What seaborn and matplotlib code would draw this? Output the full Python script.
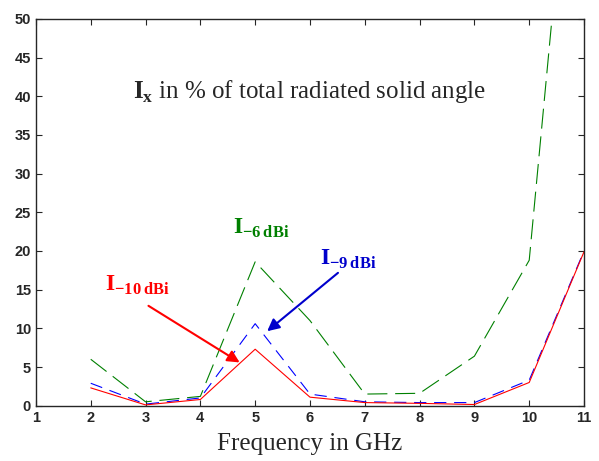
import pandas as pd
import seaborn as sns
import matplotlib.pyplot as plt

freq = [2, 3, 4, 5, 6, 7, 8, 9, 10, 11]
i_6dbi = [6.0, 0.5, 1.2, 18.6, 11.0, 1.5, 1.6, 6.4, 18.8, 94.0]
i_9dbi = [2.9, 0.2, 1.0, 10.6, 1.5, 0.5, 0.4, 0.4, 3.3, 20.0]
i_10dbi = [2.3, 0.1, 0.8, 7.3, 1.1, 0.4, 0.3, 0.15, 3.0, 19.9]

df = pd.DataFrame({"freq": freq, "i6": i_6dbi, "i9": i_9dbi, "i10": i_10dbi})

sns.set_style("ticks")
plt.rcParams["mathtext.fontset"] = "custom"
plt.rcParams["mathtext.rm"] = "Liberation Serif"
plt.rcParams["mathtext.bf"] = "Liberation Serif:bold"

fig = plt.figure(figsize=(5.99, 4.61), dpi=100)
ax = fig.add_axes([0.060, 0.120, 0.915, 0.839])

sns.lineplot(data=df, x="freq", y="i6", ax=ax, color="#008000", lw=0.8)
sns.lineplot(data=df, x="freq", y="i9", ax=ax, color="#0000ff", lw=0.8)
sns.lineplot(data=df, x="freq", y="i10", ax=ax, color="#ff0000", lw=0.8)
ax.lines[0].set_dashes([18, 7])
ax.lines[1].set_dashes([11, 7])

ax.set_xlim(1, 11)
ax.set_ylim(0, 50)
ax.set_xticks(range(1, 12))
ax.set_yticks(range(0, 51, 5))
ax.tick_params(direction="in", top=True, right=True, length=4, width=0.8, labelsize=10.5)
for lab in ax.get_xticklabels() + ax.get_yticklabels():
    lab.set_fontweight("bold")
    lab.set_family("Liberation Sans")
for sp in ax.spines.values():
    sp.set_linewidth(1.0)

ax.set_xlabel("Frequency in GHz", family="Liberation Serif", fontsize=18, labelpad=6)
ax.set_ylabel("")

ax.text(6.0, 40.6, r"$\mathbf{I}_{\mathbf{x}}$ in % of total radiated solid angle",
        family="Liberation Serif", fontsize=18, ha="center", va="center")
ax.text(4.6, 22.2, r"$\mathbf{I}_{\mathbf{-6\,dBi}}$", color="#008000", fontsize=17)
ax.text(6.18, 18.2, r"$\mathbf{I}_{\mathbf{-9\,dBi}}$", color="#0000cc", fontsize=17)
ax.text(2.26, 14.8, r"$\mathbf{I}_{\mathbf{-10\,dBi}}$", color="#ff0000", fontsize=17)

ax.annotate("", xy=(4.76, 5.4), xytext=(3.01, 13.1),
            arrowprops=dict(arrowstyle="-|>", color="#ff0000", lw=1.5, mutation_scale=18))
ax.annotate("", xy=(5.18, 9.4), xytext=(6.55, 17.4),
            arrowprops=dict(arrowstyle="-|>", color="#0000cc", lw=1.5, mutation_scale=18))

fig.savefig("out.png", dpi=100)
